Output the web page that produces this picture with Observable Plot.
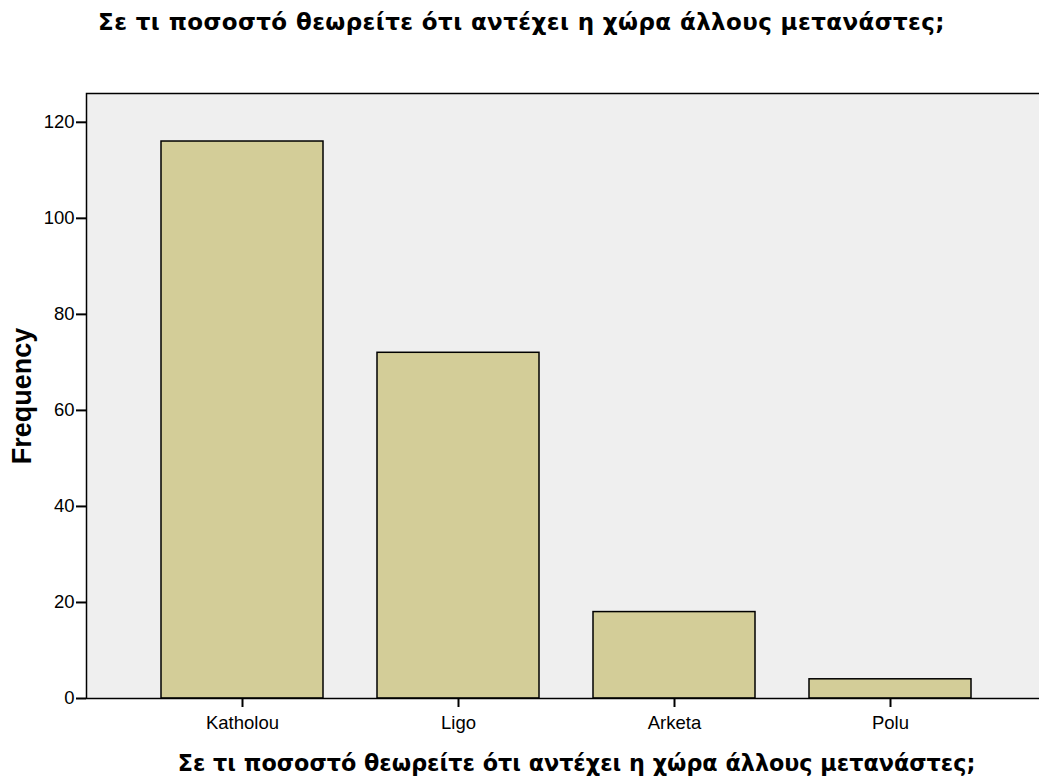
<!DOCTYPE html>
<html>
<head>
<meta charset="utf-8">
<script src="https://cdn.jsdelivr.net/npm/d3@7"></script>
<script src="https://cdn.jsdelivr.net/npm/@observablehq/plot@0.6"></script>
<style>
  html, body { margin: 0; padding: 0; background: #fff; overflow: hidden; width: 1039px; height: 784px; }
  #title { height: 48px; line-height: 44px; text-align: center; font-family: "DejaVu Sans", sans-serif; font-weight: bold; font-size: 23px; letter-spacing: 0.4px; color: #000; width: 1039px; padding-left: 4px; box-sizing: border-box; white-space: nowrap; }
  #chart svg { display: block; max-width: none !important; }
</style>
</head>
<body>
<div id="title">Σε τι ποσοστό θεωρείτε ότι αντέχει η χώρα άλλους μετανάστες;</div>
<div id="chart"></div>
<script>
const categories = ["Katholou", "Ligo", "Arketa", "Polu"];
const frequencies = [116, 72, 18, 4];
const yTicks = [0, 20, 40, 60, 80, 100, 120];
const xLabel = "Σε τι ποσοστό θεωρείτε ότι αντέχει η χώρα άλλους μετανάστες;";
const yLabel = "Frequency";

const data = categories.map((c, i) => ({category: c, value: frequencies[i]}));

const chart = Plot.plot({
  width: 1050,
  height: 736,
  marginTop: 45,
  marginBottom: 86,
  marginLeft: 86,
  marginRight: 0,
  style: {fontFamily: "'Liberation Sans', Arial, sans-serif", background: "#fff", overflow: "visible", maxWidth: "none"},
  x: {domain: categories, range: [134, 998], paddingInner: 0.25, paddingOuter: 0.125, label: null},
  y: {domain: [0, 126], label: null},
  marks: [
    Plot.frame({fill: "#efefef"}),
    Plot.barY(data, {x: "category", y: "value", fill: "#d3cd98", stroke: "#000", strokeWidth: 1.5}),
    Plot.frame({stroke: "#000", strokeWidth: 1.5}),
    Plot.axisY({ticks: yTicks, tickSize: 10, tickPadding: 2, fontSize: 18.5, strokeWidth: 2, label: null}),
    Plot.axisX({tickSize: 9, tickPadding: 8, fontSize: 18.5, strokeWidth: 2, label: null}),
    Plot.text([yLabel], {frameAnchor: "left", textAnchor: "middle", rotate: -90, dx: -64, fontSize: 27, fontWeight: "bold", fill: "#000"}),
    Plot.text([xLabel], {frameAnchor: "bottom", dx: 8, dy: 72, fontSize: 22.3, fontWeight: "bold", fontFamily: "DejaVu Sans", fill: "#000"})
  ]
});
document.getElementById("chart").appendChild(chart);
</script>
</body>
</html>
